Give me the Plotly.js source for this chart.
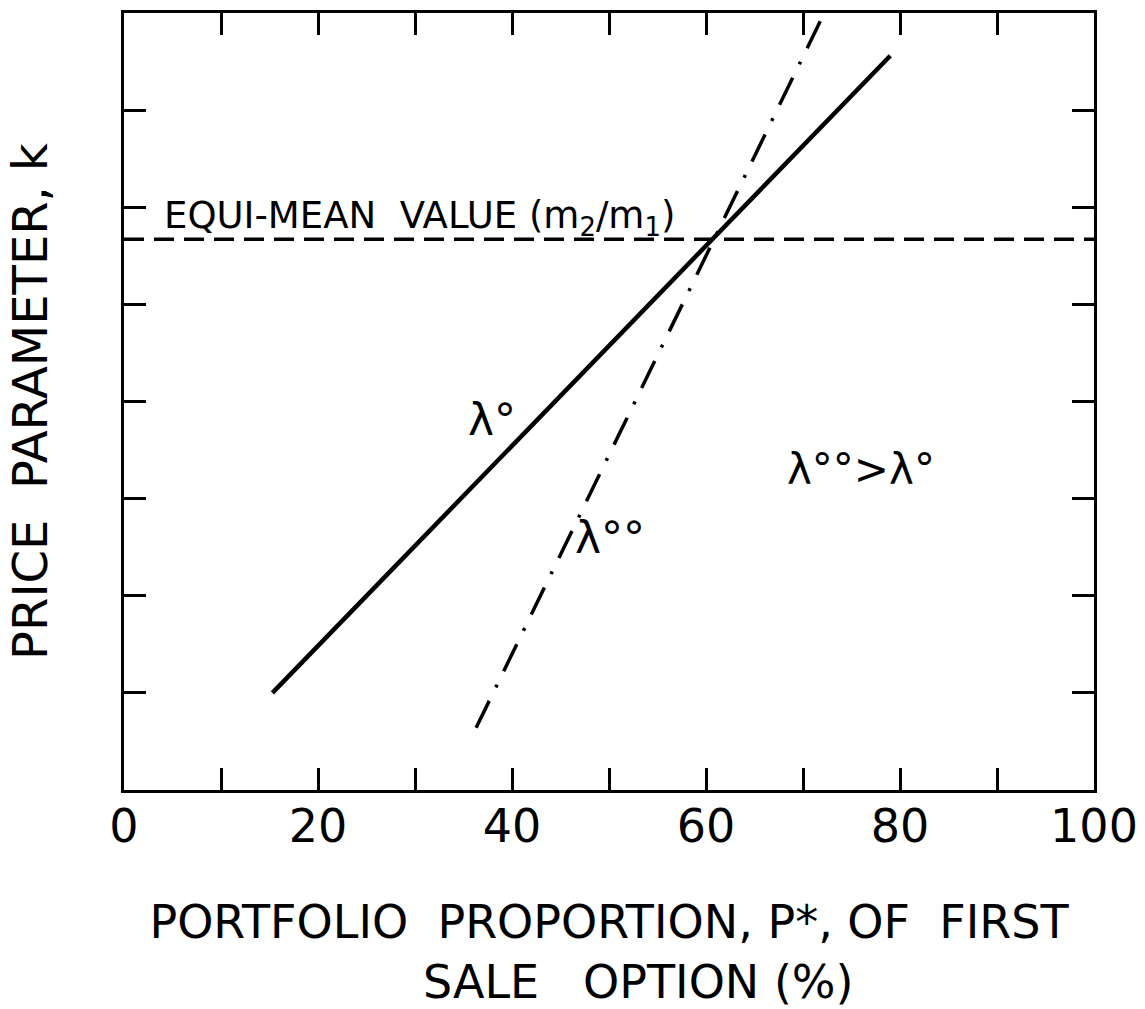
<!DOCTYPE html>
<html>
<head>
<meta charset="utf-8">
<script src="https://cdn.plot.ly/plotly-3.0.1.min.js"></script>
<style>html,body{margin:0;padding:0;background:#fff;}#chart{width:1145px;height:1009px;}</style>
</head>
<body>
<div id="chart"></div>
<script>
// ---- data ----
const lambda0X = [15.3, 79.0];          // portfolio proportion P* (%)
const lambda0K = [1.0, 7.56];           // price parameter k
const lambda00X = [36.3, 71.8];
const lambda00K = [0.64, 7.92];
const equiMeanX = [0, 100];
const equiMeanK = [5.67, 5.67];
const xTickVals = [0, 20, 40, 60, 80, 100];
const xTickText = ["0", "20", "40", "60", "80", "100"];
const xMinorTickVals = [10, 30, 50, 70, 90];
const yTickVals = [1, 2, 3, 4, 5, 6, 7];
const labelEqui = "EQUI-MEAN  VALUE (m<sub>2</sub>/m<sub>1</sub>)";
const labelL0 = "λ°";
const labelL00 = "λ°°";
const labelCompare = "λ°°>λ°";
const xTitle = "PORTFOLIO  PROPORTION, P*, OF  FIRST<br>    SALE   OPTION (%)";
const yTitle = "PRICE  PARAMETER, k";

const FONT = "'DejaVu Sans', 'Liberation Sans', sans-serif";

const traces = [
  {x: lambda0X, y: lambda0K, mode: "lines", line: {color: "#000", width: 4.5}, hoverinfo: "skip"},
  {x: lambda00X, y: lambda00K, mode: "lines", line: {color: "#000", width: 3.5, dash: "30px,15px,3px,15px"}, hoverinfo: "skip"},
  {x: equiMeanX, y: equiMeanK, mode: "lines", line: {color: "#000", width: 3.5, dash: "20px,10px"}, hoverinfo: "skip"}
];

const layout = {
  width: 1145, height: 1009,
  margin: {l: 124, r: 51, t: 13, b: 219},
  paper_bgcolor: "#fff", plot_bgcolor: "#fff",
  showlegend: false,
  font: {family: FONT, color: "#000"},
  xaxis: {
    range: [0, 100], tickmode: "array", tickvals: xTickVals, ticktext: xTickText,
    ticks: "inside", ticklen: 22, tickwidth: 3, tickcolor: "#000",
    minor: {tickmode: "array", tickvals: xMinorTickVals, ticks: "inside", ticklen: 22, tickwidth: 3, tickcolor: "#000", showgrid: false},
    showline: true, linewidth: 3, linecolor: "#000", mirror: "ticks",
    showgrid: false, zeroline: false,
    tickfont: {family: FONT, size: 46, color: "#000"},
    ticklabelstandoff: -6,
    title: {text: xTitle, font: {family: FONT, size: 46, color: "#000"}, standoff: 54},
    automargin: false, fixedrange: true
  },
  yaxis: {
    range: [0, 8], tickmode: "array", tickvals: yTickVals, showticklabels: false,
    ticks: "inside", ticklen: 22, tickwidth: 3, tickcolor: "#000",
    showline: true, linewidth: 3, linecolor: "#000", mirror: "ticks",
    showgrid: false, zeroline: false,
    title: {text: yTitle, font: {family: FONT, size: 48, color: "#000"}, standoff: 59},
    automargin: false, fixedrange: true
  },
  annotations: [
    {x: 3.9, y: 5.62, xref: "x", yref: "y", xanchor: "left", yanchor: "bottom", showarrow: false,
     text: labelEqui, font: {family: FONT, size: 37, color: "#000"}},
    {x: 37.9, y: 3.81, xref: "x", yref: "y", showarrow: false,
     text: labelL0, font: {family: FONT, size: 44, color: "#000"}},
    {x: 50.1, y: 2.6, xref: "x", yref: "y", showarrow: false,
     text: labelL00, font: {family: FONT, size: 44, color: "#000"}},
    {x: 76.0, y: 3.3, xref: "x", yref: "y", showarrow: false,
     text: labelCompare, font: {family: FONT, size: 42, color: "#000"}}
  ]
};

Plotly.newPlot("chart", traces, layout, {staticPlot: true, displayModeBar: false});
</script>
</body>
</html>
